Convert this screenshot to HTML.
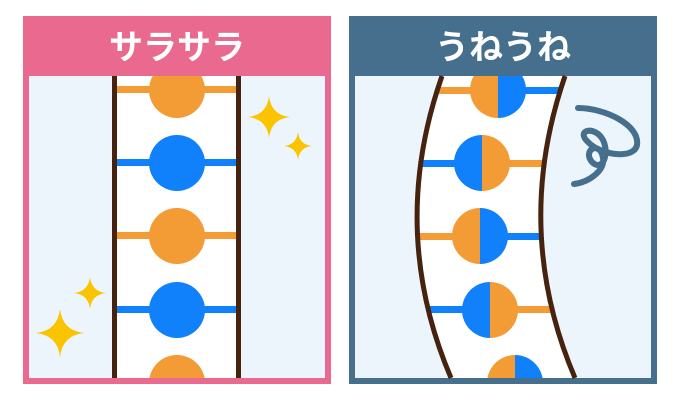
<!DOCTYPE html>
<html><head><meta charset="utf-8"><style>html,body{margin:0;padding:0;background:#fff}svg{display:block}</style></head><body>
<svg width="680" height="400" viewBox="0 0 680 400" xmlns="http://www.w3.org/2000/svg">
<defs>
<clipPath id="cl"><rect x="29" y="76" width="296" height="302"/></clipPath>
<clipPath id="cr"><path d="M442 76 Q388 230 451 378 L575 378 Q512 230 565 76 Z"/></clipPath>
<symbol id="sp" viewBox="-10 -10 20 20"><path d="M0 -10 Q1 -1 10 0 Q1 1 0 10 Q-1 1 -10 0 Q-1 -1 0 -10Z" fill="#fbc400"/></symbol>
</defs>
<!-- left panel -->
<rect x="23" y="16" width="308" height="368" fill="#e96a8e"/>
<rect x="29" y="76" width="296" height="302" fill="#ebf5fb"/>
<text x="177" y="59" text-anchor="middle" font-family="'Liberation Sans','Noto Sans CJK JP',sans-serif" font-weight="bold" font-size="34" fill="#fff">サラサラ</text>
<g clip-path="url(#cl)">
<rect x="114" y="76" width="125" height="302" fill="#fff"/>
<g fill="#f39b35"><rect x="114" y="86" width="125" height="7"/><rect x="114" y="232" width="125" height="7"/><circle cx="177" cy="90" r="28"/><circle cx="177" cy="236" r="28"/><circle cx="177" cy="383" r="28"/></g>
<g fill="#1080fb"><rect x="114" y="159" width="125" height="7"/><rect x="114" y="306" width="125" height="7"/><circle cx="177" cy="163" r="28"/><circle cx="177" cy="310" r="28"/></g>
<rect x="112" y="76" width="5" height="302" fill="#45230f"/>
<rect x="236" y="76" width="5" height="302" fill="#45230f"/>
</g>
<use href="#sp" x="248" y="96" width="42" height="42"/>
<use href="#sp" x="284" y="132" width="28" height="28"/>
<use href="#sp" x="74" y="277" width="32" height="32"/>
<use href="#sp" x="36" y="309" width="48" height="48"/>
<!-- right panel -->
<rect x="349" y="16" width="308" height="368" fill="#466e8d"/>
<rect x="355" y="76" width="296" height="302" fill="#ebf5fb"/>
<text x="503" y="59" text-anchor="middle" font-family="'Liberation Sans','Noto Sans CJK JP',sans-serif" font-weight="bold" font-size="34" fill="#fff">うねうね</text>
<g clip-path="url(#cr)">
<rect x="380" y="76" width="220" height="302" fill="#fff"/>
<!-- row1 -->
<rect x="400" y="87" width="98" height="7" fill="#f39b35"/><rect x="498" y="87" width="90" height="7" fill="#1080fb"/>
<path d="M498 62 A28 28 0 0 0 498 118Z" fill="#f39b35"/><path d="M498 62 A28 28 0 0 1 498 118Z" fill="#1080fb"/>
<!-- row2 -->
<rect x="380" y="160" width="102" height="7" fill="#1080fb"/><rect x="482" y="160" width="100" height="7" fill="#f39b35"/>
<path d="M482 135 A28 28 0 0 0 482 191Z" fill="#1080fb"/><path d="M482 135 A28 28 0 0 1 482 191Z" fill="#f39b35"/>
<!-- row3 -->
<rect x="380" y="233" width="100" height="7" fill="#f39b35"/><rect x="480" y="233" width="100" height="7" fill="#1080fb"/>
<path d="M480 208 A28 28 0 0 0 480 264Z" fill="#f39b35"/><path d="M480 208 A28 28 0 0 1 480 264Z" fill="#1080fb"/>
<!-- row4 -->
<rect x="380" y="306" width="110" height="7" fill="#1080fb"/><rect x="490" y="306" width="100" height="7" fill="#f39b35"/>
<path d="M490 282 A28 28 0 0 0 490 338Z" fill="#1080fb"/><path d="M490 282 A28 28 0 0 1 490 338Z" fill="#f39b35"/>
<!-- row5 -->
<path d="M515 355 A28 28 0 0 0 515 411Z" fill="#f39b35"/><path d="M515 355 A28 28 0 0 1 515 411Z" fill="#1080fb"/>
</g>
<path d="M442 76 Q388 230 451 378" fill="none" stroke="#45230f" stroke-width="5"/>
<path d="M565 76 Q512 230 575 378" fill="none" stroke="#45230f" stroke-width="5"/>
<path d="M578 108 C605 108 640 125 637 145 C634 160 600 155 588 142 C575 130 595 125 603 140 C610 155 602 172 592 162 C582 150 600 140 603 158 C605 170 590 182 574 184" fill="none" stroke="#466e8d" stroke-width="6" stroke-linecap="round"/>
</svg>
</body></html>
